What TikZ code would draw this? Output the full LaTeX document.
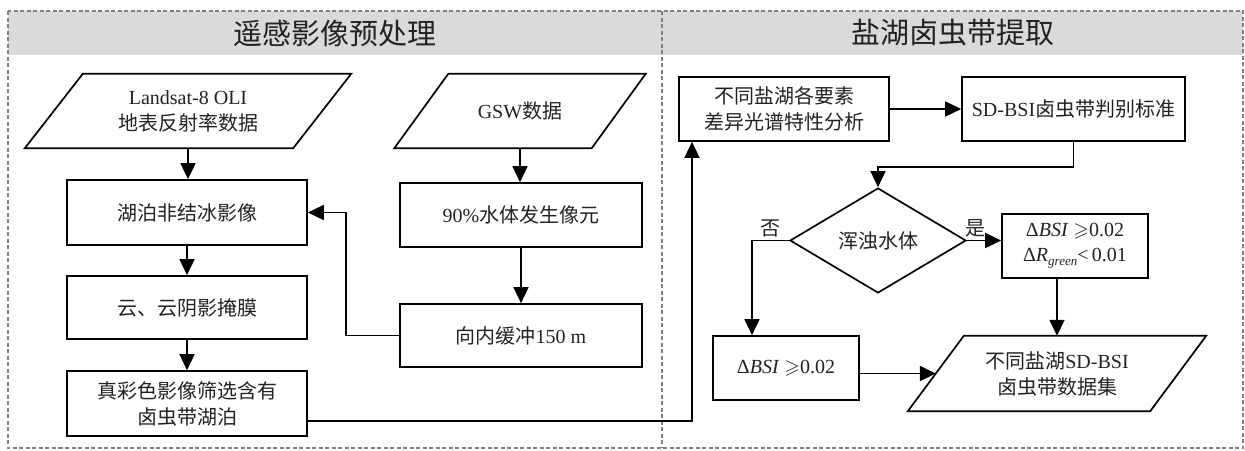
\documentclass[tikz,border=0pt]{standalone}
\usepackage{amssymb}
\usepackage{fontspec}
\setmainfont{Liberation Serif}
\newfontfamily\cjk{Noto Sans CJK SC}
\usetikzlibrary{arrows.meta,shapes.geometric}
\definecolor{txtc}{HTML}{222222}
\definecolor{framec}{HTML}{808080}
\definecolor{bandc}{HTML}{DADADA}
\newcommand\parabox[2]{\draw[line width=1.7pt] ([xshift=#2]#1.north west) -- ([xshift=#2]#1.north east) -- ([xshift=-#2]#1.south east) -- ([xshift=-#2]#1.south west) -- cycle;}
\tikzset{
 base/.style={font=\fontsize{20}{26}\selectfont, text=txtc, align=center, inner sep=0pt},
 box/.style={base, draw=black, line width=1.7pt, rectangle},
 pnode/.style={base},
 dia/.style={base, draw=black, line width=1.7pt, diamond},
 arr/.style={line width=1.7pt, -{Triangle[length=16pt,width=15pt]}},
 hdr/.style={font=\fontsize{29}{30}\selectfont, text=txtc, inner sep=0pt},
 frame/.style={draw=framec, line width=1.5pt, dash pattern=on 4pt off 2.5pt},
 lbl/.style={base}
}
\begin{document}
\begin{tikzpicture}[x=1pt,y=-1pt]
\useasboundingbox (0,0) rectangle (1245,450);
% frame and header band
\fill[bandc] (8,11) rectangle (1243,55);
\draw[frame] (8,11) rectangle (1243,448);
\draw[frame] (662,11) -- (662,448);
\node[hdr] (h1) at (335,33) {\cjk 遥感影像预处理};
\node[hdr] (h2) at (953,33) {\cjk 盐湖卤虫带提取};
% left column
\node[pnode, minimum width=268pt, minimum height=74pt] (P1) at (188,111) {Landsat-8 OLI\\{\cjk 地表反射率数据}};
\parabox{P1}{29pt}
\node[box, minimum width=240pt, minimum height=65pt] (L1) at (187,212.5) {\cjk 湖泊非结冰影像};
\node[box, minimum width=240pt, minimum height=63pt] (L2) at (187,307.5) {\cjk 云、云阴影掩膜};
\node[box, minimum width=240pt, minimum height=65pt] (L3) at (187,403.5) {\cjk 真彩色影像筛选含有\\\cjk 卤虫带湖泊};
% middle column
\node[pnode, minimum width=197pt, minimum height=74pt] (G) at (520,111) {GSW{\cjk 数据}};
\parabox{G}{27pt}
\node[box, minimum width=242pt, minimum height=64pt] (M1) at (521,215) {90\%{\cjk 水体发生像元}};
\node[box, minimum width=242pt, minimum height=63pt] (M2) at (521,335.5) {{\cjk 向内缓冲}150 m};
% right part
\node[box, minimum width=210pt, minimum height=64pt] (A) at (784,109) {\cjk 不同盐湖各要素\\\cjk 差异光谱特性分析};
\node[box, minimum width=223pt, minimum height=64pt] (B) at (1073.5,109) {SD-BSI{\cjk 卤虫带判别标准}};
\node[dia, minimum width=176pt, minimum height=105pt, aspect=1.676] (Dm) at (878,240.5) {\cjk 浑浊水体};
\node[box, minimum width=146pt, minimum height=64pt] (C) at (1075,246) {Δ\textit{BSI} $\geqslant$0.02\\[-1pt]Δ\textit{R}\raisebox{-0.4ex}{\fontsize{13}{13}\selectfont\itshape green}{<}\,0.01};
\node[box, minimum width=146pt, minimum height=64pt] (D) at (786,368) {Δ\textit{BSI} $\geqslant$0.02};
\node[pnode, minimum width=242pt, minimum height=75pt] (E) at (1057,373.5) {{\cjk 不同盐湖}SD-BSI\\\cjk 卤虫带数据集};
\parabox{E}{28pt}
\node[lbl] (yes) at (975,228) {\cjk 是};
\node[lbl] (no) at (770,228) {\cjk 否};
% helper coordinates
\coordinate (k1) at (346,0);
\coordinate (c1) at (692,421);
\coordinate (c2) at (0,167);
\coordinate (c3) at (752,0);
% connectors
\draw[arr] (P1.south) -- (P1.south |- L1.north);
\draw[arr] (L1.south) -- (L2.north);
\draw[arr] (L2.south) -- (L3.north);
\draw[arr] (G.south) -- (G.south |- M1.north);
\draw[arr] (M1.south) -- (M2.north);
\draw[arr] (M2.west) -- (M2.west -| k1) -- (L1.east -| k1) -- (L1.east);
\draw[arr] (c1 -| L3.east) -- (c1) -- (c1 |- A.south);
\draw[arr] (A.east) -- (B.west);
\draw[arr] (B.south) -- (B.south |- c2) -- (Dm.north |- c2) -- (Dm.north);
\draw[arr] (Dm.east) -- (Dm.east -| C.west);
\draw[arr] (Dm.west) -- (Dm.west -| c3) -- (c3 |- D.north);
\draw[arr] (E.north |- C.south) -- (E.north);
\draw[arr] (E.west -| D.east) -- (E.west);
\end{tikzpicture}
\end{document}
